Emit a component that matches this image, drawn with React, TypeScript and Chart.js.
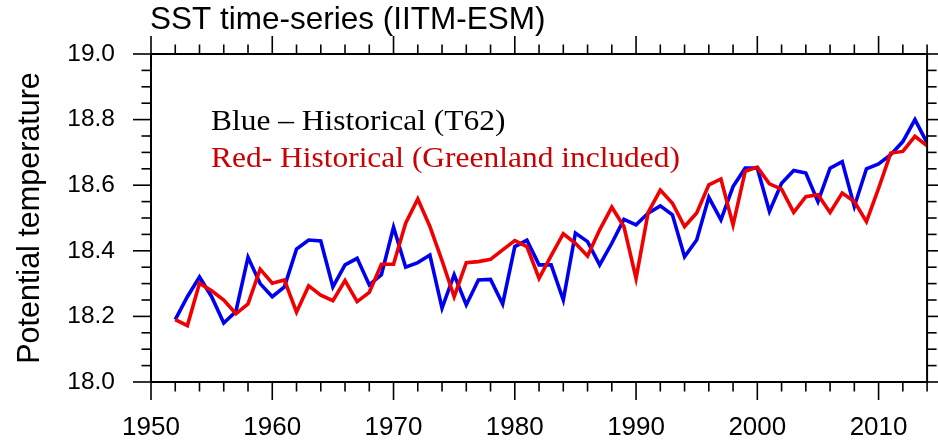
import React, { useEffect, useRef } from 'react';
import { Chart, registerables } from 'chart.js';

Chart.register(...registerables);

// ---- Data ----
const years = [
  1952, 1953, 1954, 1955, 1956, 1957, 1958, 1959, 1960, 1961,
  1962, 1963, 1964, 1965, 1966, 1967, 1968, 1969, 1970, 1971,
  1972, 1973, 1974, 1975, 1976, 1977, 1978, 1979, 1980, 1981,
  1982, 1983, 1984, 1985, 1986, 1987, 1988, 1989, 1990, 1991,
  1992, 1993, 1994, 1995, 1996, 1997, 1998, 1999, 2000, 2001,
  2002, 2003, 2004, 2005, 2006, 2007, 2008, 2009, 2010, 2011,
  2012, 2013, 2014,
];

const blueHistoricalT62 = [
  18.19, 18.26, 18.32, 18.26, 18.18, 18.215, 18.38, 18.3, 18.26, 18.29,
  18.405, 18.433, 18.43, 18.29, 18.357, 18.377, 18.296, 18.327, 18.472, 18.35,
  18.364, 18.387, 18.225, 18.327, 18.235, 18.311, 18.313, 18.238, 18.413, 18.432,
  18.357, 18.357, 18.25, 18.454, 18.428, 18.357, 18.423, 18.496, 18.479, 18.515,
  18.537, 18.51, 18.382, 18.433, 18.563, 18.494, 18.596, 18.652, 18.652, 18.52,
  18.606, 18.645, 18.637, 18.55, 18.652, 18.672, 18.535, 18.65, 18.665, 18.693,
  18.733, 18.8, 18.729,
];

const redHistoricalGreenland = [
  18.19, 18.172, 18.301, 18.278, 18.25, 18.208, 18.238, 18.344, 18.301, 18.311,
  18.213, 18.293, 18.265, 18.248, 18.309, 18.245, 18.273, 18.359, 18.359, 18.484,
  18.558, 18.474, 18.37, 18.26, 18.364, 18.367, 18.374, 18.403, 18.431, 18.413,
  18.316, 18.385, 18.452, 18.423, 18.384, 18.464, 18.533, 18.474, 18.316, 18.517,
  18.585, 18.545, 18.474, 18.515, 18.601, 18.619, 18.479, 18.642, 18.655, 18.604,
  18.588, 18.517, 18.565, 18.571, 18.517, 18.576, 18.55, 18.489, 18.59, 18.698,
  18.703, 18.749, 18.72,
];

const xTickLabels = ['1950', '1960', '1970', '1980', '1990', '2000', '2010'];
const yTickLabels = ['18.0', '18.2', '18.4', '18.6', '18.8', '19.0'];

const titleText = 'SST time-series (IITM-ESM)';
const yAxisTitle = 'Potential temperature';
const legendLines = ['Blue \u2013 Historical (T62)', 'Red- Historical (Greenland included)'];

const X_MIN = 1950;
const X_MAX = 2014;
const Y_MIN = 18.0;
const Y_MAX = 19.0;

const SANS = '"Liberation Sans", Arial, Helvetica, sans-serif';
const SERIF = '"Liberation Serif", "Times New Roman", serif';

const framePlugin = {
  id: 'framePlugin',
  afterDraw(chart: any) {
    const { ctx, chartArea: a, scales } = chart;
    const x = scales.x;
    const y = scales.y;
    ctx.save();
    ctx.strokeStyle = '#000';
    ctx.lineCap = 'butt';
    const seg = (x1: number, y1: number, x2: number, y2: number) => {
      ctx.beginPath();
      ctx.moveTo(x1, y1);
      ctx.lineTo(x2, y2);
      ctx.stroke();
    };
    ctx.lineWidth = 1.6;
    for (let yr = X_MIN; yr <= X_MAX; yr += 2) {
      const px = x.getPixelForValue(yr);
      const len = (yr - X_MIN) % 10 === 0 ? 18 : 9.5;
      seg(px, a.bottom, px, a.bottom + len);
      seg(px, a.top, px, a.top - len);
    }
    for (let i = 0; i <= 20; i++) {
      const v = Y_MIN + i * 0.05;
      const py = y.getPixelForValue(v);
      const len = i % 4 === 0 ? 18 : 9.5;
      seg(a.left - len, py, a.left, py);
      seg(a.right, py, a.right + len, py);
    }
    ctx.lineWidth = 2;
    ctx.strokeRect(a.left, a.top, a.right - a.left, a.bottom - a.top);

    // title
    ctx.fillStyle = '#000';
    ctx.textAlign = 'left';
    ctx.textBaseline = 'alphabetic';
    ctx.font = `31.5px ${SANS}`;
    ctx.fillText(titleText, a.left - 1, 29);

    // in-plot annotation text
    const drawScaled = (text: string, tx: number, ty: number, color: string) => {
      ctx.save();
      ctx.translate(tx, ty);
      ctx.scale(1.1, 1);
      ctx.fillStyle = color;
      ctx.font = `28.6px ${SERIF}`;
      ctx.fillText(text, 0, 0);
      ctx.restore();
    };
    drawScaled(legendLines[0], 211, 129.5, '#000000');
    drawScaled(legendLines[1], 211, 167, '#cc0000');
    ctx.restore();
  },
};

export default function App() {
  const canvasRef = useRef<HTMLCanvasElement | null>(null);

  useEffect(() => {
    document.body.style.margin = '0';
    const canvas = canvasRef.current;
    if (!canvas) return;
    const chart = new Chart(canvas, {
      type: 'line',
      data: {
        datasets: [
          {
            label: 'Red- Historical (Greenland included)',
            data: years.map((yr, i) => ({ x: yr, y: redHistoricalGreenland[i] })),
            borderColor: '#f00000',
            borderWidth: 3.6,
            pointRadius: 0,
            tension: 0,
            fill: false,
          },
          {
            label: 'Blue - Historical (T62)',
            data: years.map((yr, i) => ({ x: yr, y: blueHistoricalT62[i] })),
            borderColor: '#0000f0',
            borderWidth: 3.6,
            pointRadius: 0,
            tension: 0,
            fill: false,
          },
        ],
      },
      options: {
        responsive: false,
        animation: false,
        layout: { padding: { top: 54, right: 8, left: 0, bottom: 0 } },
        plugins: {
          legend: { display: false },
          tooltip: { enabled: false },
          title: { display: false },
        },
        scales: {
          x: {
            type: 'linear',
            min: X_MIN,
            max: X_MAX,
            grid: { display: false, drawTicks: false },
            border: { display: false },
            afterFit: (scale: any) => {
              scale.height = 62;
            },
            ticks: {
              stepSize: 10,
              includeBounds: false,
              padding: 30,
              color: '#000',
              maxRotation: 0,
              autoSkip: false,
              font: { family: SANS, size: 26 },
              callback: (v: any) => {
                const idx = xTickLabels.indexOf(String(v));
                return idx >= 0 ? xTickLabels[idx] : '';
              },
            },
          },
          y: {
            type: 'linear',
            min: Y_MIN,
            max: Y_MAX,
            grid: { display: false, drawTicks: false },
            border: { display: false },
            afterFit: (scale: any) => {
              scale.width = 151;
            },
            title: {
              display: true,
              text: yAxisTitle,
              color: '#000',
              font: { family: SANS, size: 30.5 },
              padding: { top: 12, bottom: 0 },
            },
            ticks: {
              stepSize: 0.2,
              padding: 36,
              color: '#000',
              autoSkip: false,
              font: { family: SANS, size: 24.5 },
              callback: (v: any) => {
                const label = Number(v).toFixed(1);
                return yTickLabels.includes(label) ? label : '';
              },
            },
          },
        },
      },
      plugins: [framePlugin],
    });
    return () => chart.destroy();
  }, []);

  return (
    <div style={{ position: 'absolute', left: 0, top: 0, width: 938, height: 444, background: '#fff' }}>
      <canvas ref={canvasRef} width={938} height={444} style={{ display: 'block' }} />
    </div>
  );
}
